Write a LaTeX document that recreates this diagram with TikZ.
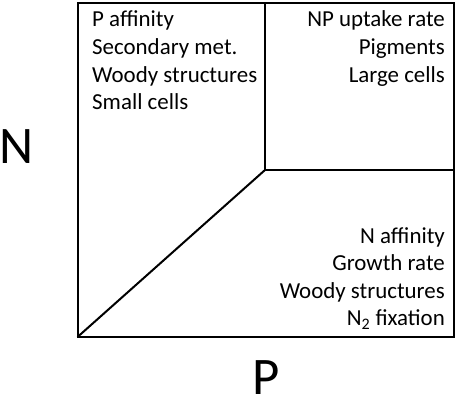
\documentclass[tikz,border=0pt]{standalone}
\usepackage{fontspec}
\setmainfont{Carlito}
\begin{document}
\begin{tikzpicture}[x=1bp,y=-1bp,
  lbl/.style={inner sep=0pt,font=\fontsize{23}{27.5}\selectfont},
  axis/.style={inner sep=0pt,text depth=0pt,font=\fontsize{53}{60}\selectfont},
  edge/.style={line width=2bp}]
\useasboundingbox (0,0) rectangle (459,400);
\coordinate (bl) at (77.5,337);
\coordinate (tr) at (454,3);
\coordinate (mt) at (265,3);
\coordinate (mid) at (265,170);
\coordinate (mr) at (454,170);
\draw[edge] (bl) rectangle (tr);
\draw[edge] (mt) -- (mid) -- (mr);
\draw[edge] (bl) -- (mid);
% top left
\node[lbl,anchor=base west] (a1) at (92,26.7) {P affinity};
\node[lbl,anchor=base west] (a2) at (92,54.5) {Secondary met.};
\node[lbl,anchor=base west] (a3) at (92,82) {Woody structures};
\node[lbl,anchor=base west] (a4) at (92,109.5) {Small cells};
% top right
\node[lbl,anchor=base east] (b1) at (445,26.7) {NP uptake rate};
\node[lbl,anchor=base east] (b2) at (445,54.5) {Pigments};
\node[lbl,anchor=base east] (b3) at (445,82) {Large cells};
% bottom right
\node[lbl,anchor=base east] (c1) at (445,243) {N affinity};
\node[lbl,anchor=base east] (c2) at (445,270.5) {Growth rate};
\node[lbl,anchor=base east] (c3) at (445,298) {Woody structures};
\node[lbl,anchor=base east] (c4) at (445,325.5) {N\textsubscript{2} fixation};
% axes
\node[axis,anchor=base] (nl) at (16.5,163) {N};
\node[axis,anchor=base] (pl) at (266,394.5) {P};
\end{tikzpicture}
\end{document}
